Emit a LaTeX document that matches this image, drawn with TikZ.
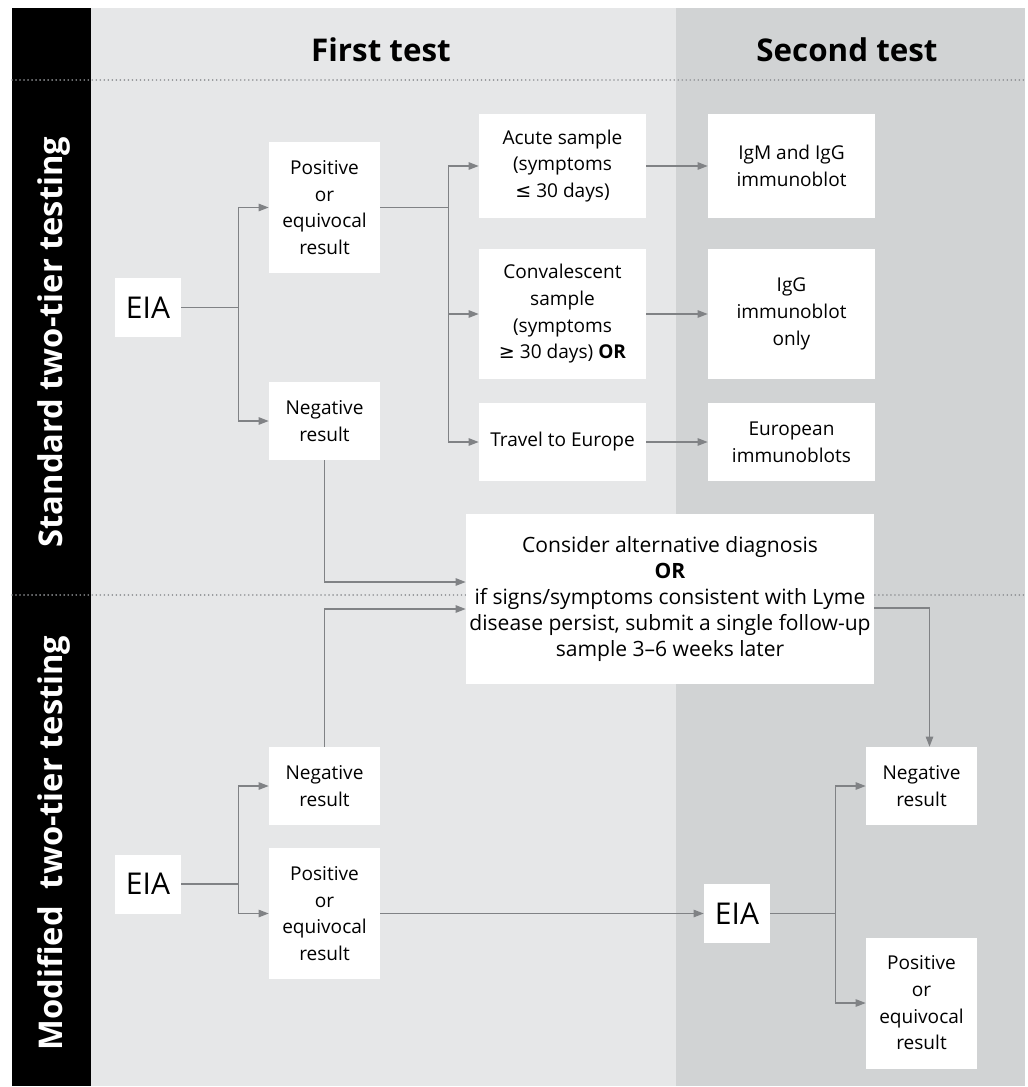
\documentclass[tikz,border=0pt]{standalone}
\usepackage{fontspec}
\setmainfont{Open Sans}
\newfontfamily\symfont{DejaVu Sans}
\usetikzlibrary{arrows.meta,calc}
\definecolor{lightpanel}{RGB}{230,231,232}
\definecolor{darkpanel}{RGB}{209,211,212}
\definecolor{flowgray}{RGB}{128,130,133}
\definecolor{dotgray}{RGB}{147,149,152}

\begin{document}
\begin{tikzpicture}[x=0.75pt, y=-0.75pt,
    box/.style={fill=white, align=center, inner sep=0pt, font=\fontsize{14.3}{20}\selectfont},
    eiabox/.style={box, minimum width=49.5pt, minimum height=44.25pt, font=\fontsize{22.5}{24}\selectfont},
    smallbox/.style={box, minimum width=83.25pt},
    widebox/.style={box, minimum width=125.25pt},
    flow/.style={draw=flowgray, line width=1pt, -{Triangle[length=7.5pt, width=5.5pt]}},
    sep/.style={draw=dotgray, line width=1.3pt, dash pattern=on 0.01pt off 3pt, line cap=round},
    title/.style={font=\fontsize{23.5}{26}\selectfont\bfseries},
    band/.style={rotate=90, text=white, font=\fontsize{24.5}{28}\selectfont\bfseries}]
    \useasboundingbox (0, 0) rectangle (1027, 1087);

    % Background panels
    \fill[lightpanel] (91, 8) rectangle (676, 1086);
    \fill[darkpanel] (676, 8) rectangle (1025, 1086);
    \fill[black] (12, 8) rectangle (91, 1086);
    % Dotted separators
    \draw[sep] (12, 80) -- (1025, 80);
    \draw[sep] (12, 595) -- (1025, 595);

    % Column titles
    \node[title] (first) at (381, 50) {First test};
    \node[title] (second) at (847, 50) {Second test};
    % Row titles
    \node[band] (standard) at (54, 342) {Standard two-tier testing};
    \node[band] (modified) at (54, 843) {Modified\ \ two-tier testing};

    % Standard two-tier testing
    \node[eiabox] (eiaA) at (148, 307.5) {EIA};
    \node[smallbox, minimum height=98.25pt] (posA) at (324.5, 207.5) {Positive\\or\\equivocal\\result};
    \node[smallbox, minimum height=58.5pt] (negA) at (324.5, 421) {Negative\\result};
    \node[widebox, minimum height=78pt] (acute) at (562.5, 166) {Acute sample\\(symptoms\\{\symfont ≤} 30 days)};
    \node[widebox, minimum height=97.5pt] (conv) at (562.5, 314) {Convalescent\\sample\\(symptoms\\{\symfont ≥} 30 days) \textbf{OR}};
    \node[widebox, minimum height=58.5pt] (travel) at (562.5, 442) {Travel to Europe};
    \node[widebox, minimum height=78pt] (igm) at (791.5, 166) {IgM and IgG\\immunoblot};
    \node[widebox, minimum height=97.5pt] (iggonly) at (791.5, 314) {IgG\\immunoblot\\only};
    \node[widebox, minimum height=58.5pt] (euro) at (791.5, 442) {European\\immunoblots};

    % Shared box between both rows
    \node[box, minimum width=306pt, minimum height=127.5pt, font=\fontsize{15.8}{19.5}\selectfont] (consider) at (670, 599)
        {Consider alternative diagnosis\\\textbf{OR}\\if signs/symptoms consistent with Lyme\\disease persist, submit a single follow-up\\sample 3--6 weeks later};

    % Modified two-tier testing
    \node[eiabox] (eiaB) at (148, 884) {EIA};
    \node[smallbox, minimum height=58.5pt] (negB) at (324.5, 786) {Negative\\result};
    \node[smallbox, minimum height=98.25pt] (posB) at (324.5, 913.5) {Positive\\or\\equivocal\\result};
    \node[eiabox] (eiaC) at (737, 913.5) {EIA};
    \node[smallbox, minimum height=58.5pt] (negC) at (921.5, 786) {Negative\\result};
    \node[smallbox, minimum height=98.25pt] (posC) at (921.5, 1003) {Positive\\or\\equivocal\\result};

    % Connectors, standard row
    \draw[flow] (eiaA.east) -- ++(57, 0) |- (posA.west);
    \draw[flow] (eiaA.east) -- ++(57, 0) |- (negA.west);
    \draw[flow] (posA.east) -- ++(68, 0) |- (acute.west);
    \draw[flow] (posA.east) -- ++(68, 0) |- (conv.west);
    \draw[flow] (posA.east) -- ++(68, 0) |- (travel.west);
    \draw[flow] (acute.east) -- (igm.west);
    \draw[flow] (conv.east) -- (iggonly.west);
    \draw[flow] (travel.east) -- (euro.west);
    \draw[flow] (negA.south) |- ($(consider.west) + (0, -17)$);

    % Connectors, modified row
    \draw[flow] (eiaB.east) -- ++(57, 0) |- (negB.west);
    \draw[flow] (eiaB.east) -- ++(57, 0) |- (posB.west);
    \draw[flow] (negB.north) |- ($(consider.west) + (0, 10)$);
    \draw[flow] (posB.east) -- (eiaC.west);
    \draw[flow] (eiaC.east) -- ++(65, 0) |- (negC.west);
    \draw[flow] (eiaC.east) -- ++(65, 0) |- (posC.west);
    \draw[flow] ($(consider.east) + (0, 9)$) -| ($(negC.north) + (8, 0)$);
\end{tikzpicture}
\end{document}
